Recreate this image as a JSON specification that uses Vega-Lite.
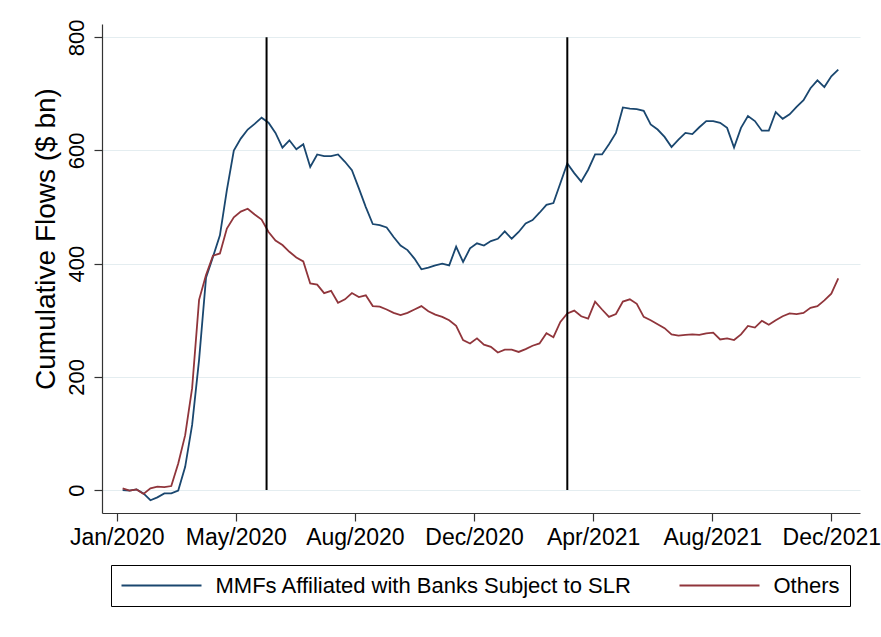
{
  "$schema": "https://vega.github.io/schema/vega-lite/v6.json",
  "width": 758,
  "height": 489,
  "autosize": {"type": "none"},
  "padding": {"left": 102, "top": 24, "right": 21, "bottom": 124},
  "background": "white",
  "config": {"view": {"stroke": null}, "font": "Liberation Sans"},
  "layer": [
    {
      "data": {"values": [
        {"date":"2020-01-08","slr":0,"oth":3},
        {"date":"2020-01-15","slr":-1,"oth":-1},
        {"date":"2020-01-22","slr":1,"oth":1},
        {"date":"2020-01-29","slr":-6,"oth":-7},
        {"date":"2020-02-05","slr":-18,"oth":3},
        {"date":"2020-02-12","slr":-13,"oth":6},
        {"date":"2020-02-19","slr":-6,"oth":5},
        {"date":"2020-02-26","slr":-6,"oth":7},
        {"date":"2020-03-04","slr":-1,"oth":47},
        {"date":"2020-03-11","slr":41,"oth":97},
        {"date":"2020-03-18","slr":115,"oth":180},
        {"date":"2020-03-25","slr":230,"oth":336},
        {"date":"2020-04-01","slr":375,"oth":380},
        {"date":"2020-04-08","slr":412,"oth":414},
        {"date":"2020-04-15","slr":450,"oth":418},
        {"date":"2020-04-22","slr":530,"oth":462},
        {"date":"2020-04-29","slr":600,"oth":482},
        {"date":"2020-05-06","slr":621,"oth":492},
        {"date":"2020-05-13","slr":637,"oth":497},
        {"date":"2020-05-20","slr":647,"oth":487},
        {"date":"2020-05-27","slr":658,"oth":478},
        {"date":"2020-06-03","slr":649,"oth":456},
        {"date":"2020-06-10","slr":631,"oth":441},
        {"date":"2020-06-17","slr":605,"oth":433},
        {"date":"2020-06-24","slr":618,"oth":421},
        {"date":"2020-07-01","slr":602,"oth":411},
        {"date":"2020-07-08","slr":611,"oth":404},
        {"date":"2020-07-15","slr":571,"oth":365},
        {"date":"2020-07-22","slr":593,"oth":363},
        {"date":"2020-07-29","slr":590,"oth":348},
        {"date":"2020-08-05","slr":590,"oth":352},
        {"date":"2020-08-12","slr":593,"oth":331},
        {"date":"2020-08-19","slr":580,"oth":337},
        {"date":"2020-08-26","slr":565,"oth":348},
        {"date":"2020-09-02","slr":533,"oth":341},
        {"date":"2020-09-09","slr":500,"oth":344},
        {"date":"2020-09-16","slr":470,"oth":325},
        {"date":"2020-09-23","slr":468,"oth":324},
        {"date":"2020-09-30","slr":464,"oth":319},
        {"date":"2020-10-07","slr":447,"oth":313},
        {"date":"2020-10-14","slr":432,"oth":309},
        {"date":"2020-10-21","slr":424,"oth":313},
        {"date":"2020-10-28","slr":409,"oth":319},
        {"date":"2020-11-04","slr":390,"oth":325},
        {"date":"2020-11-11","slr":393,"oth":316},
        {"date":"2020-11-18","slr":397,"oth":310},
        {"date":"2020-11-25","slr":400,"oth":306},
        {"date":"2020-12-02","slr":397,"oth":300},
        {"date":"2020-12-09","slr":430,"oth":290},
        {"date":"2020-12-16","slr":403,"oth":265},
        {"date":"2020-12-23","slr":427,"oth":259},
        {"date":"2020-12-30","slr":436,"oth":268},
        {"date":"2021-01-06","slr":432,"oth":257},
        {"date":"2021-01-13","slr":440,"oth":253},
        {"date":"2021-01-20","slr":444,"oth":243},
        {"date":"2021-01-27","slr":457,"oth":248},
        {"date":"2021-02-03","slr":444,"oth":248},
        {"date":"2021-02-10","slr":456,"oth":244},
        {"date":"2021-02-17","slr":471,"oth":249},
        {"date":"2021-02-24","slr":477,"oth":255},
        {"date":"2021-03-03","slr":490,"oth":259},
        {"date":"2021-03-10","slr":504,"oth":277},
        {"date":"2021-03-17","slr":507,"oth":270},
        {"date":"2021-03-24","slr":542,"oth":297},
        {"date":"2021-03-31","slr":577,"oth":312},
        {"date":"2021-04-07","slr":560,"oth":317},
        {"date":"2021-04-14","slr":545,"oth":307},
        {"date":"2021-04-21","slr":566,"oth":303},
        {"date":"2021-04-28","slr":593,"oth":333},
        {"date":"2021-05-05","slr":593,"oth":319},
        {"date":"2021-05-12","slr":611,"oth":306},
        {"date":"2021-05-19","slr":631,"oth":311},
        {"date":"2021-05-26","slr":676,"oth":333},
        {"date":"2021-06-02","slr":674,"oth":337},
        {"date":"2021-06-09","slr":673,"oth":329},
        {"date":"2021-06-16","slr":670,"oth":306},
        {"date":"2021-06-23","slr":646,"oth":300},
        {"date":"2021-06-30","slr":637,"oth":293},
        {"date":"2021-07-07","slr":624,"oth":286},
        {"date":"2021-07-14","slr":606,"oth":275},
        {"date":"2021-07-21","slr":619,"oth":273},
        {"date":"2021-07-28","slr":631,"oth":274},
        {"date":"2021-08-04","slr":629,"oth":275},
        {"date":"2021-08-11","slr":641,"oth":274},
        {"date":"2021-08-18","slr":652,"oth":277},
        {"date":"2021-08-25","slr":652,"oth":278},
        {"date":"2021-09-01","slr":649,"oth":266},
        {"date":"2021-09-08","slr":640,"oth":268},
        {"date":"2021-09-15","slr":605,"oth":265},
        {"date":"2021-09-22","slr":640,"oth":275},
        {"date":"2021-09-29","slr":661,"oth":290},
        {"date":"2021-10-06","slr":652,"oth":287},
        {"date":"2021-10-13","slr":635,"oth":299},
        {"date":"2021-10-20","slr":635,"oth":292},
        {"date":"2021-10-27","slr":668,"oth":300},
        {"date":"2021-11-03","slr":656,"oth":307},
        {"date":"2021-11-10","slr":664,"oth":312},
        {"date":"2021-11-17","slr":677,"oth":311},
        {"date":"2021-11-24","slr":689,"oth":313},
        {"date":"2021-12-01","slr":710,"oth":322},
        {"date":"2021-12-08","slr":724,"oth":325},
        {"date":"2021-12-15","slr":712,"oth":335},
        {"date":"2021-12-22","slr":731,"oth":347},
        {"date":"2021-12-29","slr":743,"oth":374}
      ]},
      "transform": [{"fold": ["slr", "oth"], "as": ["series", "value"]}],
      "mark": {"type": "line", "strokeWidth": 1.8},
      "encoding": {
        "x": {
          "field": "date", "type": "temporal",
          "scale": {"type": "utc", "domain": [1576644480000, 1642628160000]},
          "axis": {
            "title": null, "grid": false,
            "values": [1577923200000, 1588291200000, 1598659200000, 1609027200000, 1619395200000, 1629763200000, 1640131200000],
            "format": "%b/%Y", "labelFontSize": 23, "labelColor": "black",
            "labelPadding": 5, "tickSize": 8, "tickColor": "#333", "domainColor": "#333",
            "tickWidth": 1.2, "domainWidth": 1.2, "labelFlush": false, "labelOverlap": false
          }
        },
        "y": {
          "field": "value", "type": "quantitative",
          "scale": {"domain": [-40.6, 823.5], "nice": false, "zero": false},
          "axis": {
            "values": [0, 200, 400, 600, 800], "grid": true, "gridColor": "#e4edf0", "gridWidth": 1.2,
            "labelAngle": -90, "labelAlign": "center", "labelBaseline": "alphabetic",
            "labelPadding": 11, "labelFontSize": 22, "labelColor": "black",
            "tickSize": 8, "tickColor": "#333", "domainColor": "#333", "tickWidth": 1.2, "domainWidth": 1.2,
            "title": "Cumulative Flows ($ bn)", "titleFontSize": 28, "titleFontWeight": "normal", "titleColor": "black",
            "titleX": -48, "titleY": 214.5, "titleAngle": -90, "titleAlign": "center", "titleBaseline": "alphabetic"
          }
        },
        "color": {
          "field": "series", "type": "nominal",
          "scale": {"domain": ["slr", "oth"], "range": ["#1a476f", "#90353b"]},
          "legend": {
            "orient": "none", "legendX": 9, "legendY": 541, "direction": "horizontal", "title": null,
            "symbolType": "stroke", "symbolSize": 6400, "symbolStrokeWidth": 2, "clipHeight": 22,
            "labelFontSize": 22, "labelColor": "black", "labelOffset": 13, "labelLimit": 700,
            "columnPadding": 46, "padding": 9.5, "strokeColor": "black", "fillColor": "white",
            "labelExpr": "datum.value == 'slr' ? 'MMFs Affiliated with Banks Subject to SLR' : 'Others'"
          }
        }
      }
    },
    {
      "data": {"values": [{"date": "2020-06-01"}, {"date": "2021-03-31"}]},
      "mark": {"type": "rule", "color": "black", "strokeWidth": 2},
      "encoding": {
        "x": {"field": "date", "type": "temporal", "scale": {"type": "utc", "domain": [1576644480000, 1642628160000]}},
        "y": {"datum": 0, "type": "quantitative", "scale": {"domain": [-40.6, 823.5], "nice": false, "zero": false}},
        "y2": {"datum": 800}
      }
    }
  ]
}
